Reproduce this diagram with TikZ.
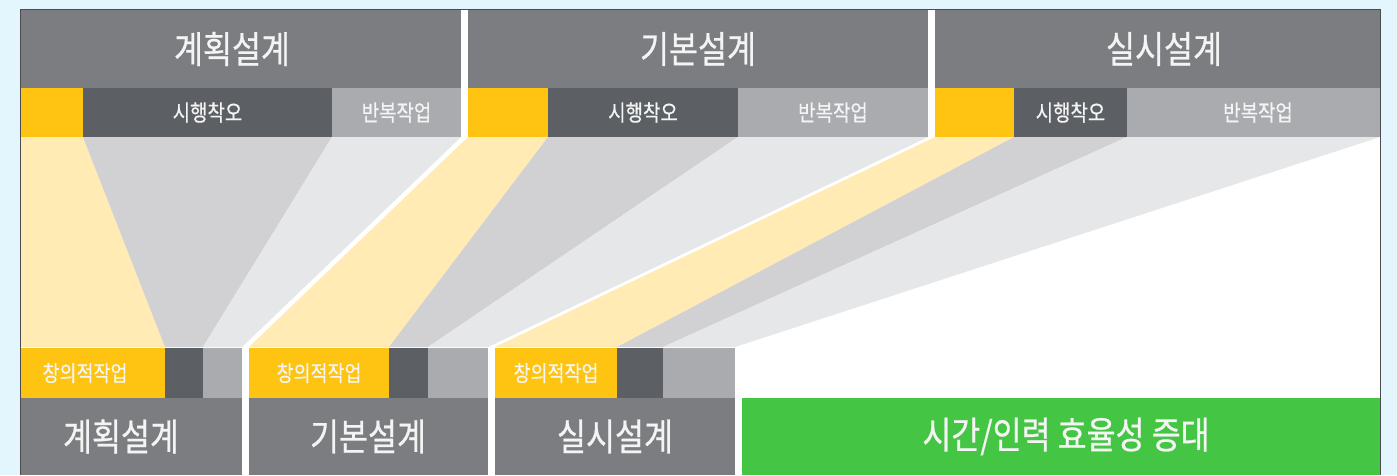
\documentclass[tikz,border=0pt]{standalone}
\usepackage{fontspec}
\newfontfamily\kr[FakeStretch=0.84,FakeBold=0.6]{Noto Sans CJK KR}
\definecolor{bgblue}{HTML}{E3F6FE}
\definecolor{hdgray}{HTML}{7B7D80}
\definecolor{dkgray}{HTML}{5C5F63}
\definecolor{ltgray}{HTML}{A9ABAE}
\definecolor{yel}{HTML}{FFC412}
\definecolor{fanyel}{HTML}{FFEBB3}
\definecolor{fanmid}{HTML}{D1D1D3}
\definecolor{fanlt}{HTML}{E6E7E9}
\definecolor{grn}{HTML}{44C544}
\definecolor{txt}{HTML}{F4F4F4}
\tikzset{
  bigtxt/.style={inner sep=0pt, text=txt, font=\kr\fontsize{37.5}{42}\selectfont},
  subtxt/.style={inner sep=0pt, text=txt, font=\kr\fontsize{22.5}{26}\selectfont},
  cretxt/.style={inner sep=0pt, text=txt, font=\kr\fontsize{22}{25}\selectfont},
}
\begin{document}
\begin{tikzpicture}[x=1pt,y=-1pt]
\useasboundingbox (0,0) rectangle (1397,475);
\fill[bgblue] (0,0) rectangle (1397,475);
\fill[white] (20,9) rectangle (1380,475);
% top headers
\fill[hdgray] (20,9) rectangle (461,88);
\fill[hdgray] (468,9) rectangle (928,88);
\fill[hdgray] (935,9) rectangle (1380,88);
% top sub bands
\fill[yel] (20,88) rectangle (83,137);
\fill[dkgray] (83,88) rectangle (332,137);
\fill[ltgray] (332,88) rectangle (461,137);
\fill[yel] (468,88) rectangle (548,137);
\fill[dkgray] (548,88) rectangle (738,137);
\fill[ltgray] (738,88) rectangle (928,137);
\fill[yel] (935,88) rectangle (1014,137);
\fill[dkgray] (1014,88) rectangle (1127,137);
\fill[ltgray] (1127,88) rectangle (1380,137);
% fans
\fill[fanyel] (20,137) -- (83,137) -- (165,347) -- (20,347) -- cycle;
\fill[fanmid] (83,137) -- (332,137) -- (203,347) -- (165,347) -- cycle;
\fill[fanlt] (332,137) -- (461,137) -- (242,347) -- (203,347) -- cycle;
\fill[fanyel] (468,137) -- (548,137) -- (389,347) -- (249,347) -- cycle;
\fill[fanmid] (548,137) -- (738,137) -- (428,347) -- (389,347) -- cycle;
\fill[fanlt] (738,137) -- (928,137) -- (488,347) -- (428,347) -- cycle;
\fill[fanyel] (935,137) -- (1014,137) -- (617,347) -- (495,347) -- cycle;
\fill[fanmid] (1014,137) -- (1127,137) -- (663,347) -- (617,347) -- cycle;
\fill[fanlt] (1127,137) -- (1380,137) -- (735,347) -- (663,347) -- cycle;
% bottom sub bands
\fill[yel] (20,348) rectangle (165,398);
\fill[dkgray] (165,348) rectangle (203,398);
\fill[ltgray] (203,348) rectangle (242,398);
\fill[yel] (249,348) rectangle (389,398);
\fill[dkgray] (389,348) rectangle (428,398);
\fill[ltgray] (428,348) rectangle (488,398);
\fill[yel] (495,348) rectangle (617,398);
\fill[dkgray] (617,348) rectangle (663,398);
\fill[ltgray] (663,348) rectangle (735,398);
% bottom headers
\fill[hdgray] (20,398) rectangle (242,475);
\fill[hdgray] (249,398) rectangle (488,475);
\fill[hdgray] (495,398) rectangle (735,475);
\fill[grn] (742,398) rectangle (1380,475);
% frame
\draw[gray!60!black, line width=0.7pt] (20,475) -- (20,9) -- (1380,9) -- (1380,475);
% texts
\node[bigtxt] (h1) at (232,49) {계획설계};
\node[bigtxt] (h2) at (698,49) {기본설계};
\node[bigtxt] (h3) at (1164,49) {실시설계};
\node[subtxt] (t1) at (207.5,112.5) {시행착오};
\node[subtxt] (r1) at (396.5,112.5) {반복작업};
\node[subtxt] (t2) at (643,112.5) {시행착오};
\node[subtxt] (r2) at (833,112.5) {반복작업};
\node[subtxt] (t3) at (1070.5,112.5) {시행착오};
\node[subtxt] (r3) at (1258,112.5) {반복작업};
\node[cretxt] (c1) at (85,373) {창의적작업};
\node[cretxt] (c2) at (319,373) {창의적작업};
\node[cretxt] (c3) at (556,373) {창의적작업};
\node[bigtxt] (b1) at (121,436.5) {계획설계};
\node[bigtxt] (b2) at (368,436.5) {기본설계};
\node[bigtxt] (b3) at (615,436.5) {실시설계};
\node[bigtxt] (g) at (1066,436.5) {시간/인력 효율성 증대};
\end{tikzpicture}
\end{document}
